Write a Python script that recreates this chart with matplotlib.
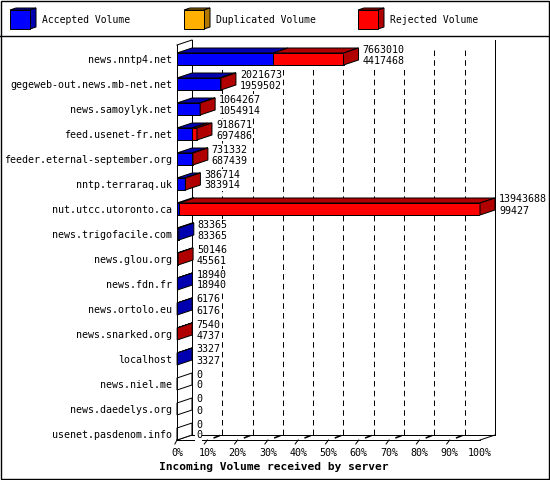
import matplotlib
matplotlib.use('Agg')
import matplotlib.pyplot as plt
from matplotlib.patches import Polygon, Rectangle
from matplotlib.lines import Line2D

# ---------------- data ----------------
servers = ['news.nntp4.net', 'gegeweb-out.news.mb-net.net', 'news.samoylyk.net',
           'feed.usenet-fr.net', 'feeder.eternal-september.org', 'nntp.terraraq.uk',
           'nut.utcc.utoronto.ca', 'news.trigofacile.com', 'news.glou.org',
           'news.fdn.fr', 'news.ortolo.eu', 'news.snarked.org', 'localhost',
           'news.niel.me', 'news.daedelys.org', 'usenet.pasdenom.info']
incoming = [7663010, 2021673, 1064267, 918671, 731332, 386714, 13943688,
            83365, 50146, 18940, 6176, 7540, 3327, 0, 0, 0]
accepted = [4417468, 1959502, 1054914, 697486, 687439, 383914, 99427,
            83365, 45561, 18940, 6176, 4737, 3327, 0, 0, 0]
duplicated = [0, 0, 0, 0, 0, 0, 0, 0, 0, 0, 0, 0, 0, 0, 0, 0]
rejected = [3245542, 62171, 9353, 221185, 43893, 2800, 13844261,
            0, 4585, 0, 0, 2803, 0, 0, 0, 0]
x_ticks = [0, 10, 20, 30, 40, 50, 60, 70, 80, 90, 100]
x_tick_labels = ['%d%%' % t for t in x_ticks]
series_labels = ['Accepted Volume', 'Duplicated Volume', 'Rejected Volume']
x_title = 'Incoming Volume received by server'

# ---------------- style ----------------
front_cols = ['#0000FF', '#FFB000', '#FF0000']
dark_cols = ['#0000B0', '#B07800', '#B00000']
MONO = 'DejaVu Sans Mono'
FS = 7.2
LW = 0.72
plt.rcParams['lines.scale_dashes'] = False

W, H = 550, 480
fig = plt.figure(figsize=(W / 100, H / 100), dpi=100)
fig.patch.set_facecolor('white')

# background / frame / legend layer (pixel coordinates)
bg = fig.add_axes([0, 0, 1, 1])
bg.set_xlim(0, W)
bg.set_ylim(H, 0)
bg.axis('off')
bg.add_patch(Rectangle((0.5, 0.5), W - 1.5, H - 1.8, fill=False, ec='black', lw=LW * 1.4))
bg.add_line(Line2D([0, W], [35.5, 35.5], color='black', lw=LW * 1.4))

leg_x = [10, 184, 358]
for lx, lab, fc, dc in zip(leg_x, series_labels, front_cols, dark_cols):
    x0, x1, y0, y1, ddx, ddy = lx, lx + 20, 10, 29, 6, -2
    bg.add_patch(Polygon([(x0, y0), (x1, y0), (x1 + ddx, y0 + ddy), (x0 + ddx, y0 + ddy)],
                         closed=True, fc=dc, ec='black', lw=LW))
    bg.add_patch(Polygon([(x1, y0), (x1 + ddx, y0 + ddy), (x1 + ddx, y1 + ddy), (x1, y1)],
                         closed=True, fc=dc, ec='black', lw=LW))
    bg.add_patch(Rectangle((x0, y0), x1 - x0, y1 - y0, fc=fc, ec='black', lw=LW))
    bg.text(lx + 32, 20, lab, fontfamily=MONO, fontsize=7.0, ha='left', va='center')

# ---------------- main (front plane) axes ----------------
n = len(servers)
Y_TOP, Y_BOT = -0.56, n - 0.76
ax = fig.add_axes([177 / W, 1 - 440 / H, 303 / W, 395 / H])
ax.set_xlim(0, 100)
ax.set_ylim(Y_BOT, Y_TOP)
ax.patch.set_alpha(0)
for s in ax.spines.values():
    s.set_visible(False)

DX = 4.95     # depth offset in percent units
DY = 0.2      # depth offset in row units (upwards)
BH = 0.48     # bar height

vmax = max(incoming)

# back wall
for t in x_ticks[1:-1]:
    ax.add_line(Line2D([t + DX, t + DX], [Y_TOP - DY + 0.4, Y_BOT - DY], color='black',
                       lw=LW, dashes=(4.0, 3.0), zorder=1, clip_on=False))
ax.add_line(Line2D([100 + DX, 100 + DX], [Y_TOP - DY, Y_BOT - DY], color='black', lw=LW, zorder=1, clip_on=False))
ax.add_line(Line2D([DX, DX], [Y_TOP - DY, Y_BOT - DY], color='black', lw=LW, zorder=1, clip_on=False))
ax.add_line(Line2D([0, DX], [Y_TOP, Y_TOP - DY], color='black', lw=LW, zorder=1, clip_on=False))
# floor
ax.add_line(Line2D([DX, 100 + DX], [Y_BOT - DY, Y_BOT - DY], color='black', lw=LW, zorder=1, clip_on=False))
ax.add_line(Line2D([0, 100], [Y_BOT, Y_BOT], color='black', lw=LW, zorder=2, clip_on=False))
ax.add_line(Line2D([0, DX], [Y_BOT, Y_BOT - DY], color='black', lw=LW, zorder=2, clip_on=False))
ax.add_line(Line2D([100, 100 + DX], [Y_BOT, Y_BOT - DY], color='black', lw=LW, zorder=2, clip_on=False))
for t in x_ticks[1:-1]:
    ax.add_line(Line2D([t - 1.0, t], [Y_BOT + 0.16, Y_BOT], color='black', lw=LW, zorder=2, clip_on=False))
    ax.add_line(Line2D([t + 2.3, t + DX - 1.0], [Y_BOT - 0.09, Y_BOT - DY + 0.03], color='black',
                       lw=LW * 1.6, zorder=2, clip_on=False))
ax.add_line(Line2D([-0.7, 0], [Y_BOT + 0.16, Y_BOT], color='black', lw=LW, zorder=2, clip_on=False))
# front left axis line
ax.add_line(Line2D([0, 0], [Y_TOP, Y_BOT], color='black', lw=LW, zorder=6, clip_on=False))

# bars
txt_box = dict(boxstyle='square,pad=0.05', fc='white', ec='none')
for i in range(n):
    segs = [accepted[i], duplicated[i], rejected[i]]
    y_top = i - BH / 2
    y_bot = i + BH / 2
    left = 0.0
    last = None
    for k, v in enumerate(segs):
        if v <= 0:
            continue
        w = v / vmax * 100
        ax.barh(i, w, left=left, height=BH, color=front_cols[k], edgecolor='black',
                linewidth=LW, zorder=4)
        ax.add_patch(Polygon([(left, y_top), (left + w, y_top), (left + w + DX, y_top - DY),
                              (left + DX, y_top - DY)], closed=True, fc=dark_cols[k],
                             ec='black', lw=LW, zorder=4, clip_on=False))
        left += w
        last = k
    side_fc = dark_cols[last] if last is not None else 'white'
    ax.add_patch(Polygon([(left, y_top), (left + DX, y_top - DY), (left + DX, y_bot - DY),
                          (left, y_bot)], closed=True, fc=side_fc, ec='black', lw=LW,
                         zorder=4, clip_on=False))
    xe = incoming[i] / vmax * 100 + DX + 1.3
    ax.text(xe, i - 0.38, str(incoming[i]), fontfamily=MONO, fontsize=FS,
            ha='left', va='center', zorder=7, clip_on=False, bbox=txt_box)
    ax.text(xe, i + 0.06, str(accepted[i]), fontfamily=MONO, fontsize=FS,
            ha='left', va='center', zorder=7, clip_on=False, bbox=txt_box)

ax.set_yticks(range(n))
ax.set_yticklabels(servers, fontfamily=MONO, fontsize=FS)
ax.set_xticks(x_ticks)
ax.set_xticklabels(x_tick_labels, fontfamily=MONO, fontsize=FS)
ax.tick_params(axis='y', length=0, pad=3.6)
ax.tick_params(axis='x', length=0, pad=6.0)

fig.text(274 / W, 1 - 467 / H, x_title, fontfamily=MONO, fontsize=8.1,
         fontweight='bold', ha='center', va='center')

fig.savefig('out.png', dpi=100)
